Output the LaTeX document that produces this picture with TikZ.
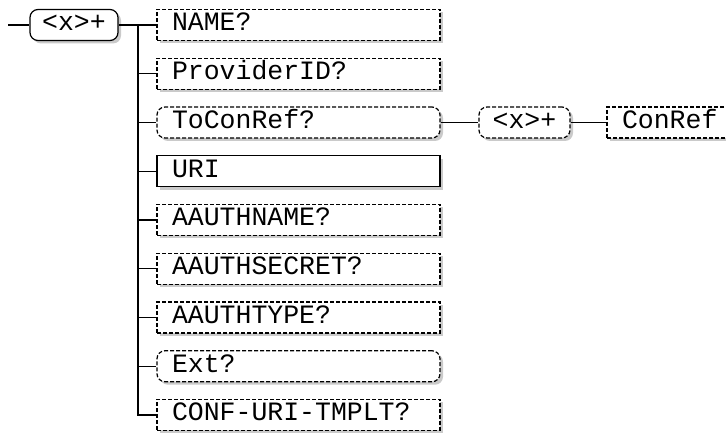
\documentclass[tikz,border=0pt]{standalone}
\usepackage{fontspec}
\newfontfamily\monofont{Liberation Mono}
\usetikzlibrary{shadows}

\begin{document}
\begin{tikzpicture}[x=1pt,y=-1pt,line width=1.2pt,
    base node/.style={draw,fill=white,inner ysep=4pt,text height=17pt,text depth=5pt,minimum height=31pt,
      font=\monofont\fontsize{26.5}{26.5}\selectfont,
      drop shadow={shadow xshift=3pt,shadow yshift=-3pt,fill=black!35,opacity=0.6}},
    elem node/.style={base node,text width=253pt,inner xsep=15pt,align=left},
    opt node/.style={elem node,dash pattern=on 4pt off 2pt},
    seq node/.style={opt node,rounded corners=8pt},
    rep node/.style={base node,rounded corners=8pt,minimum width=88pt}]
    \useasboundingbox (0,0) rectangle (726,435);
    \clip (0,0) rectangle (726,435);
    % Nodes
      % root
      \node (root) at (74, 25) [rep node] {<x>+};
      
      % children
      \node (name) at (298.5, 25) [opt node] {NAME?};
      \node (provider) at (298.5, 73.75) [opt node] {ProviderID?};
      \node (toconref) at (298.5, 122.5) [seq node] {ToConRef?};
      \node (uri) at (298.5, 171.25) [elem node] {URI};
      \node (authname) at (298.5, 220) [opt node] {AAUTHNAME?};
      \node (authsecret) at (298.5, 268.75) [opt node] {AAUTHSECRET?};
      \node (authtype) at (298.5, 317.5) [opt node] {AAUTHTYPE?};
      \node (ext) at (298.5, 366.25) [seq node] {Ext?};
      \node (conf) at (298.5, 415) [opt node] {CONF-URI-TMPLT?};
      
      % ToConRef content
      \node (rep2) at (524.5, 122.5) [rep node,dash pattern=on 4pt off 2pt,minimum width=91pt] {<x>+};
      \node (conref) at (748.5, 122.5) [opt node] {ConRef};
      
      \coordinate (in) at (8, 25);
      \coordinate (bus) at (138, 25);
    
    % Edges
      \draw (in) -- (root.west);
      \draw (root.east) -- (bus) |- (conf.west);
      \draw (bus) |- (name.west);
      \draw (bus) |- (provider.west);
      \draw (bus) |- (toconref.west);
      \draw (bus) |- (uri.west);
      \draw (bus) |- (authname.west);
      \draw (bus) |- (authsecret.west);
      \draw (bus) |- (authtype.west);
      \draw (bus) |- (ext.west);
      
      \draw (toconref.east) -- (rep2.west);
      \draw (rep2.east) -- (conref.west);
      
\end{tikzpicture}
\end{document}
